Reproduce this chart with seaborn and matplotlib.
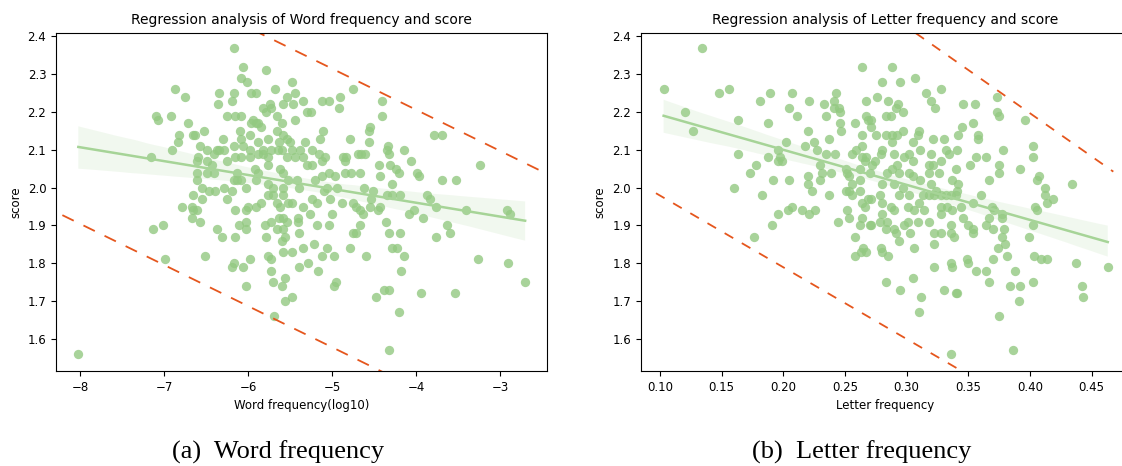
import numpy as np
import matplotlib
matplotlib.use("Agg")
import matplotlib.pyplot as plt
import seaborn as sns

# Word frequency (log10) vs score
word_freq = [
    -6.17, -6.06, -6.08, -6.01, -5.78, -6.87, -6.75, -6.35, -6.17, -6.36,
    -6.19, -5.96, -5.90, -5.68, -5.54, -7.09, -7.07, -6.92, -6.72, -6.25,
    -6.15, -6.08, -5.94, -5.82, -5.74, -5.78, -5.72, -5.66, -5.58, -6.82,
    -6.83, -6.66, -6.63, -6.52, -6.91, -6.57, -6.49, -6.37, -6.30, -6.35,
    -6.17, -6.09, -6.08, -5.98, -5.96, -5.91, -5.88, -5.84, -5.76, -5.66,
    -5.60, -5.58, -5.54, -5.50, -6.06, -5.98, -5.88, -5.82, -5.72, -5.63,
    -5.60, -7.15, -6.59, -6.61, -6.49, -6.43, -6.40, -6.29, -6.25, -6.15,
    -6.08, -5.98, -5.88, -5.82, -5.76, -5.64, -5.54, -5.92, -5.88, -6.61,
    -6.49, -6.41, -6.13, -6.17, -6.08, -5.90, -5.76, -5.62, -5.58, -5.52,
    -6.61, -6.55, -6.47, -6.39, -6.29, -6.13, -6.19, -6.02, -5.76, -5.70,
    -5.58, -5.48, -5.44, -5.46, -5.35, -5.44, -5.30, -5.25, -5.12, -5.03,
    -4.91, -4.75, -4.92, -4.41, -4.41, -4.55, -4.56, -5.11, -5.14, -4.79,
    -4.56, -3.79, -3.69, -3.24, -5.48, -5.38, -5.32, -5.24, -5.44, -5.34,
    -5.30, -5.24, -5.16, -5.12, -5.08, -4.87, -4.85, -4.83, -4.69, -4.65,
    -4.61, -4.33, -4.35, -4.32, -4.14, -4.06, -4.44, -4.31, -4.24, -4.20,
    -3.99, -3.96, -5.04, -5.12, -5.20, -4.96, -4.85, -4.77, -4.67, -4.43,
    -4.28, -3.69, -3.52, -5.42, -5.39, -5.06, -4.94, -4.62, -6.65, -6.55,
    -6.25, -5.76, -5.70, -5.58, -5.52, -6.79, -6.67, -6.65, -6.61, -6.67,
    -6.57, -6.16, -6.02, -6.00, -5.90, -5.84, -5.66, -5.62, -5.63, -5.58,
    -5.53, -7.13, -7.01, -6.37, -6.31, -6.16, -6.11, -6.02, -6.02, -5.80,
    -5.72, -5.79, -5.66, -5.58, -5.60, -5.56, -6.99, -6.51, -6.19, -6.17,
    -6.06, -5.98, -5.76, -5.73, -5.58, -5.72, -5.70, -5.56, -5.60, -6.02,
    -5.56, -5.69, -8.02, -5.48, -5.34, -5.24, -5.18, -5.40, -5.40, -5.26,
    -5.18, -5.04, -5.00, -5.10, -5.02, -4.88, -4.75, -4.71, -4.67, -4.63,
    -4.55, -4.45, -4.43, -4.51, -4.53, -4.35, -4.29, -4.19, -3.87, -3.83,
    -3.76, -4.08, -4.02, -3.92, -3.40, -2.92, -2.88, -4.67, -4.75, -4.71,
    -4.36, -4.32, -4.19, -3.76, -3.63, -3.60, -5.39, -5.47, -5.35, -5.21,
    -5.06, -5.12, -4.98, -4.78, -4.59, -4.28, -4.22, -4.14, -5.28, -5.39,
    -5.17, -4.18, -3.26, -2.90, -2.70, -4.98, -4.95, -4.48, -4.38, -4.32,
    -3.94, -3.54, -4.20, -5.47, -4.32,
]
word_score = [
    2.37, 2.32, 2.29, 2.28, 2.31, 2.26, 2.24, 2.25, 2.25, 2.22,
    2.23, 2.25, 2.25, 2.26, 2.24, 2.19, 2.18, 2.19, 2.17, 2.19,
    2.19, 2.19, 2.18, 2.21, 2.22, 2.20, 2.21, 2.19, 2.22, 2.14,
    2.12, 2.14, 2.14, 2.15, 2.10, 2.11, 2.10, 2.10, 2.13, 2.10,
    2.11, 2.15, 2.13, 2.14, 2.17, 2.17, 2.17, 2.16, 2.13, 2.15,
    2.17, 2.14, 2.13, 2.12, 2.11, 2.10, 2.12, 2.10, 2.10, 2.12,
    2.10, 2.08, 2.08, 2.07, 2.07, 2.06, 2.09, 2.10, 2.07, 2.08,
    2.08, 2.08, 2.09, 2.09, 2.08, 2.10, 2.08, 2.05, 2.04, 2.04,
    2.04, 2.04, 2.04, 2.02, 2.02, 2.02, 2.06, 2.05, 2.04, 2.02,
    2.02, 2.00, 1.99, 1.99, 2.00, 2.02, 1.99, 2.00, 2.01, 2.00,
    2.00, 2.28, 2.25, 2.22, 2.23, 2.18, 2.20, 2.20, 2.23, 2.23,
    2.24, 2.26, 2.21, 2.23, 2.19, 2.16, 2.15, 2.15, 2.13, 2.13,
    2.12, 2.14, 2.14, 2.06, 2.10, 2.10, 2.12, 2.10, 2.08, 2.08,
    2.06, 2.06, 2.09, 2.07, 2.08, 2.08, 2.07, 2.08, 2.09, 2.09,
    2.09, 2.11, 2.10, 2.09, 2.10, 2.07, 2.06, 2.06, 2.05, 2.04,
    2.04, 2.03, 2.04, 2.03, 2.02, 2.03, 2.04, 2.04, 2.04, 2.03,
    2.01, 2.02, 2.02, 2.02, 2.00, 2.00, 2.00, 2.00, 1.98, 1.97,
    1.97, 1.98, 1.98, 1.98, 1.96, 1.95, 1.95, 1.94, 1.94, 1.92,
    1.91, 1.94, 1.94, 1.95, 1.95, 1.96, 1.96, 1.95, 1.92, 1.92,
    1.91, 1.89, 1.90, 1.89, 1.87, 1.87, 1.90, 1.91, 1.89, 1.90,
    1.91, 1.87, 1.89, 1.89, 1.86, 1.87, 1.81, 1.82, 1.79, 1.80,
    1.79, 1.81, 1.82, 1.81, 1.83, 1.78, 1.75, 1.76, 1.74, 1.74,
    1.70, 1.66, 1.56, 1.96, 1.95, 1.97, 1.96, 1.92, 1.91, 1.93,
    1.90, 1.90, 1.93, 1.99, 1.97, 1.96, 1.96, 1.95, 1.94, 1.93,
    1.95, 1.94, 1.95, 1.99, 1.97, 1.98, 1.98, 1.98, 1.98, 1.97,
    1.95, 1.93, 1.94, 1.92, 1.94, 1.94, 1.93, 1.90, 1.88, 1.88,
    1.91, 1.88, 1.88, 1.87, 1.90, 1.88, 1.88, 1.83, 1.84, 1.85,
    1.84, 1.82, 1.82, 1.84, 1.82, 1.84, 1.84, 1.82, 1.80, 1.79,
    1.78, 1.78, 1.81, 1.80, 1.75, 1.74, 1.75, 1.71, 1.73, 1.73,
    1.72, 1.72, 1.67, 1.71, 1.57,
]

# Letter frequency vs score
letter_freq = [
    0.134, 0.103, 0.120, 0.127, 0.148, 0.156, 0.163, 0.163, 0.181, 0.189,
    0.188, 0.207, 0.205, 0.211, 0.221, 0.220, 0.233, 0.235, 0.241, 0.243,
    0.241, 0.245, 0.246, 0.246, 0.247, 0.237, 0.258, 0.264, 0.267, 0.267,
    0.269, 0.264, 0.264, 0.196, 0.202, 0.218, 0.225, 0.227, 0.235, 0.242,
    0.230, 0.231, 0.239, 0.251, 0.252, 0.256, 0.259, 0.264, 0.267, 0.266,
    0.262, 0.270, 0.178, 0.173, 0.188, 0.197, 0.196, 0.199, 0.192, 0.205,
    0.220, 0.220, 0.230, 0.160, 0.253, 0.256, 0.262, 0.251, 0.288, 0.280,
    0.295, 0.307, 0.328, 0.316, 0.320, 0.323, 0.276, 0.285, 0.293, 0.297,
    0.291, 0.287, 0.283, 0.271, 0.271, 0.275, 0.283, 0.288, 0.292, 0.288,
    0.297, 0.310, 0.309, 0.305, 0.311, 0.321, 0.330, 0.342, 0.341, 0.345,
    0.354, 0.358, 0.358, 0.346, 0.355, 0.373, 0.373, 0.375, 0.396, 0.378,
    0.402, 0.402, 0.364, 0.356, 0.351, 0.375, 0.375, 0.392, 0.367, 0.340,
    0.332, 0.334, 0.328, 0.320, 0.318, 0.321, 0.326, 0.318, 0.305, 0.302,
    0.298, 0.290, 0.280, 0.279, 0.274, 0.272, 0.284, 0.288, 0.292, 0.294,
    0.302, 0.305, 0.311, 0.337, 0.342, 0.407, 0.406, 0.434, 0.412, 0.280,
    0.290, 0.297, 0.320, 0.324, 0.183, 0.223, 0.237, 0.253, 0.256, 0.262,
    0.269, 0.264, 0.266, 0.204, 0.207, 0.215, 0.221, 0.226, 0.252, 0.253,
    0.264, 0.262, 0.270, 0.244, 0.258, 0.196, 0.191, 0.176, 0.258, 0.263,
    0.265, 0.267, 0.278, 0.280, 0.271, 0.287, 0.290, 0.294, 0.302, 0.301,
    0.306, 0.310, 0.313, 0.314, 0.318, 0.322, 0.328, 0.332, 0.336, 0.340,
    0.341, 0.328, 0.333, 0.337, 0.344, 0.360, 0.354, 0.369, 0.371, 0.377,
    0.377, 0.367, 0.346, 0.280, 0.284, 0.278, 0.271, 0.283, 0.290, 0.291,
    0.294, 0.298, 0.301, 0.309, 0.303, 0.318, 0.328, 0.322, 0.328, 0.336,
    0.336, 0.338, 0.350, 0.354, 0.354, 0.364, 0.370, 0.379, 0.377, 0.322,
    0.306, 0.279, 0.280, 0.285, 0.404, 0.406, 0.412, 0.414, 0.419, 0.402,
    0.399, 0.380, 0.374, 0.381, 0.370, 0.349, 0.350, 0.336, 0.337, 0.322,
    0.356, 0.364, 0.367, 0.388, 0.384, 0.392, 0.402, 0.391, 0.403, 0.409,
    0.414, 0.437, 0.463, 0.442, 0.443, 0.283, 0.295, 0.305, 0.312, 0.310,
    0.330, 0.340, 0.341, 0.375, 0.336, 0.386,
]
letter_score = [
    2.37, 2.26, 2.20, 2.15, 2.25, 2.26, 2.18, 2.09, 2.23, 2.25,
    2.17, 2.25, 2.21, 2.19, 2.23, 2.15, 2.22, 2.19, 2.23, 2.25,
    2.21, 2.21, 2.20, 2.17, 2.15, 2.13, 2.17, 2.32, 2.23, 2.19,
    2.18, 2.14, 2.11, 2.10, 2.12, 2.11, 2.12, 2.10, 2.09, 2.09,
    2.06, 2.04, 2.04, 2.05, 2.04, 2.09, 2.10, 2.08, 2.08, 2.07,
    2.05, 2.04, 2.06, 2.04, 2.08, 2.08, 2.07, 2.07, 2.02, 2.02,
    2.03, 2.01, 2.02, 2.00, 2.03, 2.01, 2.02, 1.99, 2.32, 2.28,
    2.28, 2.29, 2.26, 2.25, 2.23, 2.21, 2.24, 2.23, 2.22, 2.20,
    2.21, 2.19, 2.19, 2.18, 2.16, 2.14, 2.14, 2.14, 2.14, 2.12,
    2.15, 2.15, 2.14, 2.12, 2.10, 2.13, 2.13, 2.14, 2.10, 2.16,
    2.17, 2.14, 2.13, 2.22, 2.22, 2.24, 2.20, 2.19, 2.18, 2.10,
    2.11, 2.08, 2.08, 2.08, 2.06, 2.06, 2.04, 2.05, 2.02, 2.05,
    2.10, 2.09, 2.07, 2.09, 2.06, 2.06, 2.04, 2.04, 2.07, 2.09,
    2.08, 2.09, 2.10, 2.09, 2.07, 2.06, 2.04, 2.05, 2.06, 2.04,
    2.04, 2.03, 2.02, 2.02, 2.01, 2.03, 2.02, 2.01, 2.00, 2.01,
    2.01, 2.00, 2.01, 1.99, 1.98, 1.99, 1.98, 1.99, 1.98, 1.99,
    1.97, 1.96, 1.95, 1.94, 1.95, 1.94, 1.93, 1.94, 1.94, 1.92,
    1.92, 1.90, 1.90, 1.91, 1.87, 1.93, 1.90, 1.87, 1.82, 1.83,
    1.84, 1.83, 1.98, 1.96, 1.97, 1.95, 1.94, 1.98, 1.98, 1.95,
    1.94, 1.96, 1.98, 1.94, 1.98, 1.98, 1.98, 1.98, 1.98, 1.98,
    1.99, 1.95, 1.95, 1.94, 1.95, 1.98, 1.96, 1.95, 1.94, 1.93,
    1.92, 1.92, 1.92, 1.93, 1.91, 1.91, 1.90, 1.89, 1.89, 1.88,
    1.86, 1.90, 1.91, 1.91, 1.88, 1.91, 1.93, 1.88, 1.88, 1.90,
    1.88, 1.87, 1.90, 1.89, 1.88, 1.90, 1.89, 1.89, 1.87, 1.85,
    1.84, 1.84, 1.83, 1.82, 1.95, 1.94, 1.98, 1.96, 1.97, 1.90,
    1.87, 1.85, 1.84, 1.82, 1.81, 1.81, 1.80, 1.80, 1.79, 1.79,
    1.78, 1.78, 1.75, 1.78, 1.74, 1.74, 1.75, 1.70, 1.82, 1.81,
    1.81, 1.80, 1.79, 1.74, 1.71, 1.75, 1.73, 1.76, 1.71, 1.67,
    1.73, 1.72, 1.72, 1.66, 1.56, 1.57,
]

# hand-drawn dashed bounds: slope, intercepts and x extent of each line
word_bound_slope = [-0.1088, -0.1088]
word_bound_icpt = [1.771, 1.034]
word_bound_x = [-8.21, -2.52]
letter_bound_slope = [-2.288, -1.898]
letter_bound_icpt = [3.112, 2.169]
letter_bound_x = [0.0968, 0.4675]

green = "#93c981"
line_green = "#a6d497"
orange = "#e5561d"

fig = plt.figure(figsize=(11.22, 4.66), dpi=100)
ax1 = fig.add_axes([0.0499, 0.2039, 0.4373, 0.7260])
ax2 = fig.add_axes([0.5710, 0.2039, 0.4361, 0.7260])

panels = [
    (ax1, word_freq, word_score, word_bound_slope, word_bound_icpt, word_bound_x,
     "Word frequency(log10)", "Regression analysis of Word frequency and score", (7, 6)),
    (ax2, letter_freq, letter_score, letter_bound_slope, letter_bound_icpt, letter_bound_x,
     "Letter frequency", "Regression analysis of Letter frequency and score", (5.5, 5.5)),
]

for ax, xv, yv, slopes, icpts, xr, xlab, title, dash in panels:
    sns.regplot(x=np.array(xv), y=np.array(yv), ax=ax, color=green,
                scatter_kws={"s": 45, "alpha": 0.8, "linewidths": 0},
                line_kws={"lw": 1.8, "color": line_green})
    xs = np.array(xr)
    for b, a in zip(slopes, icpts):
        ax.plot(xs, a + b * xs, color=orange, lw=1.3, dashes=dash)
    ax.set_xlabel(xlab, fontsize=8.5)
    ax.set_ylabel("score", fontsize=8.5)
    ax.set_title(title, fontsize=10)
    ax.tick_params(labelsize=8.5)
    ax.set_ylim(1.515, 2.41)
    ax.set_yticks(np.arange(1.6, 2.41, 0.1))

ax1.set_xlim(-8.286, -2.444)
ax1.set_xticks(range(-8, -2))
ax2.set_xlim(0.0844, 0.481)
ax2.set_xticks(np.arange(0.10, 0.451, 0.05))

fig.text(0.248, 0.03, "(a)  Word frequency", ha="center", va="center",
         fontsize=19, family=["Liberation Serif"])
fig.text(0.768, 0.03, "(b)  Letter frequency", ha="center", va="center",
         fontsize=19, family=["Liberation Serif"])

fig.savefig("out.png", dpi=100)
